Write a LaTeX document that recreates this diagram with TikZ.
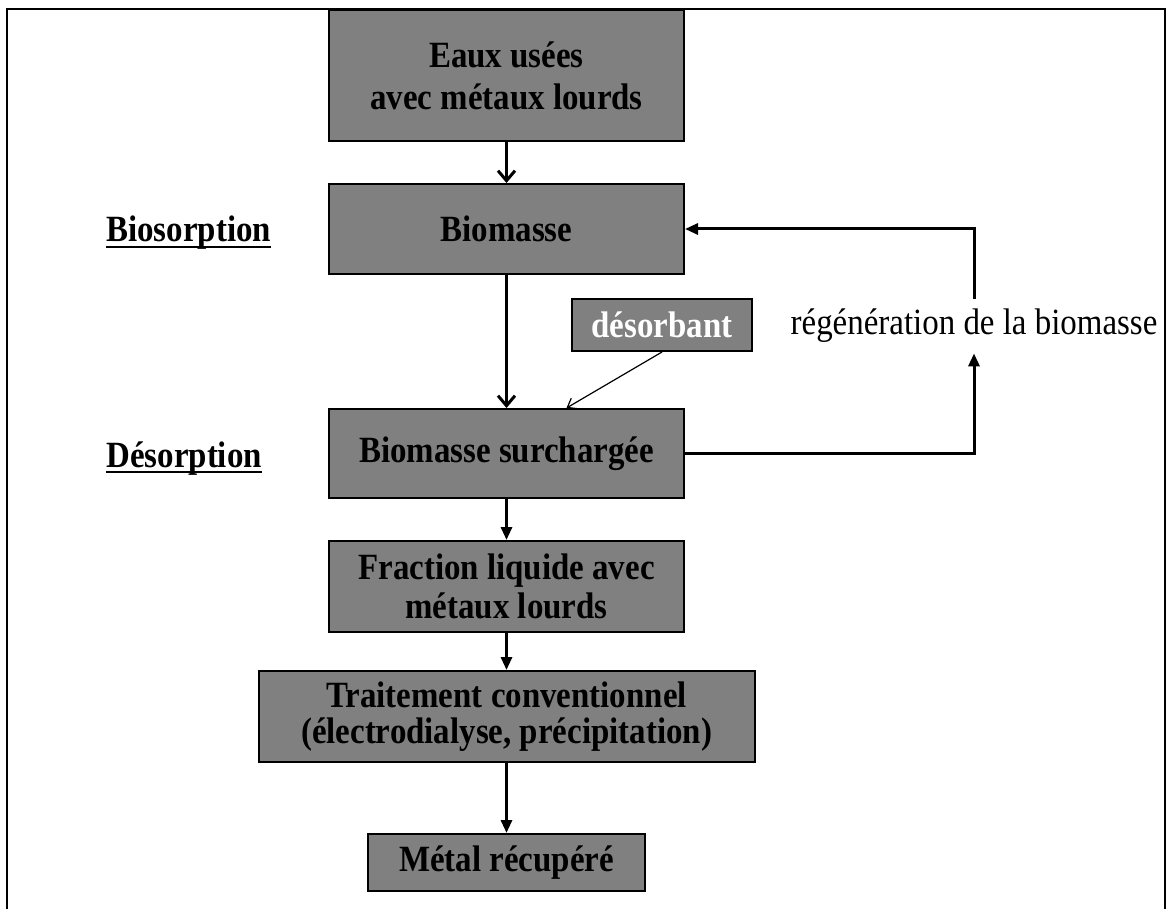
\documentclass[tikz,border=0pt]{standalone}
\usepackage{fontspec}
\setmainfont[FakeStretch=0.89]{Liberation Serif}
\newcommand{\undl}[1]{\setbox0\hbox{#1}\rlap{\rule[-3.2pt]{\wd0}{1.2pt}}\box0}
\usetikzlibrary{positioning,arrows.meta,calc}
\definecolor{boxgray}{HTML}{808080}

\begin{document}
\begin{tikzpicture}[
  font=\fontsize{18.5}{19.5}\selectfont,
  stage/.style={draw=black, line width=1pt, fill=boxgray, minimum width=177.5pt,
                minimum height=44.5pt, inner sep=2pt, align=center,
                font=\fontsize{18.5}{19.5}\selectfont\bfseries},
  agent/.style={draw=black, line width=1pt, fill=boxgray, minimum width=90pt,
                minimum height=26pt, inner sep=2pt, text=white,
                font=\fontsize{18.5}{19.5}\selectfont\bfseries},
  phase/.style={anchor=base west, inner sep=0pt,
                font=\fontsize{18.5}{19.5}\selectfont\bfseries},
  note/.style={inner sep=0pt, minimum height=27pt},
  flow/.style={-{Straight Barb[length=5pt, width=8.5pt]}, line width=1.5pt},
  flowt/.style={-{Triangle[length=6.5pt, width=5.5pt]}, line width=1.5pt},
  feed/.style={-{Straight Barb[length=4pt, width=6pt]}, line width=0.6pt},
]
\useasboundingbox (0,0) rectangle (586pt,-454.5pt);
% ---- frame ----
\draw[line width=1pt] (3.5pt,-454.5pt) |- (582.5pt,-4.5pt) -- (582.5pt,-454.5pt);

% ---- main chain ----
\node[stage, anchor=north, minimum height=65.5pt] (eaux) at (253.25pt,-4.5pt)
  {Eaux usées\\[1.5pt] avec métaux lourds};
\node[stage, below=20.5pt of eaux, minimum height=45pt] (bio) {Biomasse};
\node[stage, below=66.5pt of bio] (surch) {Biomasse surchargée};
\node[stage, below=20.5pt of surch, minimum height=45.5pt] (frac)
  {Fraction liquide avec\\ métaux lourds};
\node[stage, below=18.5pt of frac, minimum width=248pt, minimum height=45.5pt] (trait)
  {Traitement conventionnel\\[-1.5pt] (électrodialyse, précipitation)};
\node[stage, below=35pt of trait, minimum width=138.5pt, minimum height=28.5pt] (metal)
  {Métal récupéré};

\draw[flow] (eaux) -- (bio);
\draw[flow] (bio) -- (surch);
\draw[flowt] (surch) -- (frac);
\draw[flowt] (frac) -- (trait);
\draw[flowt] (trait) -- (metal);

% ---- desorbant ----
\node[agent, anchor=north] (desorb) at ($(bio.south)+(77.75pt,-11.5pt)$) {désorbant};
\draw[feed] (desorb.south) -- ($(surch.north)+(30pt,0)$);

% ---- regeneration loop ----
\node[note] (regen) at ($(desorb.center)+(156pt,-0.5pt)$) {régénération de la biomasse};
\draw[flowt] (surch.east) -| (regen.south);
\draw[flowt] (regen.north) |- (bio.east);

% ---- phases ----
\node[phase] (biosorp) at (53pt,-121pt) {\undl{Biosorption}};
\node[phase] (desorp) at (53pt,-233.5pt) {\undl{Désorption}};
\end{tikzpicture}
\end{document}
